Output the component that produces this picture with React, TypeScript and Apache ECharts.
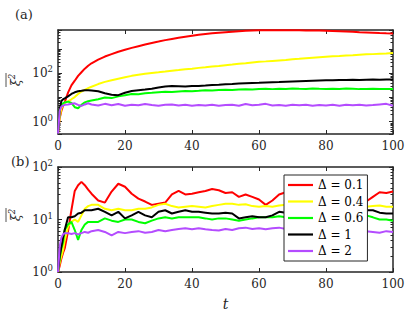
import React, { useEffect, useRef } from "react";
import * as echarts from "echarts";

const T = [0, 0.5, 1, 1.5, 2, 3, 4, 5, 6, 7, 8, 9, 10, 12, 14, 16, 18, 20, 22, 24, 26, 28, 30, 32, 34, 36, 38, 40, 42, 44, 46, 48, 50, 52, 54, 56, 58, 60, 62, 64, 66, 68, 70, 72, 74, 76, 78, 80, 82, 84, 86, 88, 90, 92, 94, 96, 98, 100];

// Panel (a)
const redA = [0.32, 1.4, 2.8, 4.5, 6.3, 16, 32, 50, 79, 112, 158, 209, 263, 372, 500, 630, 794, 955, 1148, 1349, 1585, 1820, 2089, 2399, 2692, 3020, 3311, 3631, 3981, 4266, 4571, 4898, 5129, 5370, 5623, 5888, 6026, 6095, 6110, 6120, 6120, 6110, 6100, 6080, 6050, 6000, 5950, 5888, 5750, 5600, 5450, 5300, 5129, 4990, 4850, 4700, 4580, 4467];
const yellowA = [0.32, 1.5, 3.5, 5, 6, 7, 8.5, 10.5, 14.1, 17.8, 20.9, 24.5, 28.2, 36.3, 44.7, 52.5, 60.3, 69.2, 79.4, 89.1, 97.7, 105, 112, 120, 129, 138, 148, 158, 170, 182, 195, 204, 219, 234, 251, 263, 282, 302, 316, 331, 347, 363, 389, 407, 427, 447, 468, 490, 513, 525, 550, 562, 589, 617, 631, 661, 676, 708];
const greenA = [0.32, 3.2, 5, 5.8, 6.3, 6.8, 6, 4, 3.6, 5, 6.3, 7.1, 7.6, 8.5, 10, 9.5, 11.2, 12.6, 14.1, 13.8, 15.1, 15.8, 16.6, 17.4, 17, 17.8, 18.6, 18.2, 19, 20, 19.5, 20.4, 20.9, 20.4, 21.4, 21.9, 21.4, 22.9, 23.4, 22.4, 23.4, 22.9, 24, 23.4, 22.9, 24, 23.4, 22.9, 23.4, 22.9, 24, 23.4, 22.4, 22.9, 23.4, 22.9, 22.4, 22.4];
const blackA = [0.32, 3.2, 7.1, 8.5, 9.3, 11.2, 14.1, 16.6, 18.2, 19, 20, 20, 19.5, 18.2, 15.1, 13.2, 12.6, 15.8, 18.6, 20, 21.4, 23.4, 26.3, 28.8, 30.2, 29.5, 28.8, 30.2, 30.2, 31.6, 33.1, 33.9, 35.5, 36.3, 38, 38.9, 39.8, 40.7, 41.7, 42.7, 43.7, 45.7, 46.8, 47.9, 49, 50.1, 51.3, 52.5, 52.5, 53.7, 53.7, 55, 53.7, 55, 56.2, 55, 56.2, 56.2];
const purpleA = [0.32, 2.8, 4.2, 4.6, 5, 5.2, 5.6, 5.8, 5, 4.5, 5.2, 5.8, 5.2, 4.7, 5.5, 4.8, 5.4, 4.6, 5.1, 4.8, 5.4, 4.9, 4.6, 5, 5.2, 4.7, 5, 4.6, 4.9, 4.7, 5.1, 4.6, 4.9, 5, 4.6, 5.4, 4.8, 5, 5.5, 4.7, 4.9, 4.6, 5, 4.8, 5.1, 4.6, 4.9, 4.7, 5, 4.6, 5.1, 4.8, 5, 4.7, 4.9, 5.2, 5.5, 4.6];

// Panel (b)
const redB = [1, 1.3, 1.8, 2.3, 2.8, 6, 15, 35, 45, 52, 45, 37, 31, 23, 21, 34, 48, 42, 31, 25, 22, 19, 20, 21, 30, 35, 30, 31, 33, 35, 38, 36, 32, 33, 27, 30, 27, 24, 19, 23, 30, 33, 35, 30, 28, 32, 29, 27, 30, 26, 28, 25, 23, 22, 27, 33, 32, 34];
const yellowB = [1, 1.5, 2, 2.6, 4, 7.3, 9, 10, 9, 12, 16, 18, 19, 19, 16, 15, 16, 15, 15, 16, 16, 17, 19, 20, 18, 17, 17.5, 18, 17.5, 17, 18, 19, 20, 20, 19, 19.5, 18, 17.5, 18, 17.5, 18.5, 19, 18, 18.5, 17.5, 18, 19, 18.5, 18, 17.5, 18, 18.5, 18, 17.5, 18, 18.5, 17.5, 17.5];
const greenB = [1, 1.8, 2.8, 3.6, 6.3, 8, 9, 6.3, 4.1, 6.3, 8, 9, 9, 9, 10.5, 9.5, 9, 10, 10, 9, 8.5, 9.5, 10.5, 11, 10.5, 11, 11, 11, 11, 10.5, 10, 10.5, 10.5, 10, 9.5, 10, 10.5, 11, 11, 11, 11.5, 11, 11.5, 11, 11.5, 12, 11.5, 11, 11.5, 12, 11.5, 11, 11.5, 12, 11, 10, 10, 9.5];
const blackB = [1, 2, 3, 4.5, 6.3, 11, 11, 11.5, 13, 13.5, 15, 15, 15, 16, 14, 12, 14, 10.5, 12, 14, 12, 11, 14, 15, 13, 14, 15, 14, 14, 13.5, 13, 13, 13.5, 13, 10.5, 11, 11.5, 11, 11, 12, 14, 13.5, 14.5, 14, 13.5, 14.5, 15, 14, 14.5, 13.5, 14, 14.5, 14, 15, 15, 13.5, 13, 13];
const purpleB = [1, 3, 4.5, 5.2, 5.5, 5.5, 5.3, 5.5, 5.2, 5.5, 5.8, 5.6, 6, 6.3, 5.8, 5, 5.8, 5.5, 5.8, 6, 5.6, 5.8, 6.3, 6, 6.3, 6.6, 6.8, 6.5, 6.8, 6.5, 6.3, 6.2, 6.6, 6.3, 6.8, 7, 6.6, 6.8, 6.5, 6.8, 7, 6.6, 6.8, 6.5, 6.3, 6.6, 6.8, 6.4, 6.6, 6.2, 6.5, 6.3, 6.1, 6, 5.8, 5.6, 6, 5.8];

const NAMES = ["Δ = 0.1", "Δ = 0.4", "Δ = 0.6", "Δ = 1", "Δ = 2"];
const COLORS = ["#ff0000", "#ffff00", "#00ff00", "#000000", "#b44cff"];
const SERIES_A = [redA, yellowA, greenA, blackA, purpleA];
const SERIES_B = [redB, yellowB, greenB, blackB, purpleB];

const X_MIN = 0;
const X_MAX = 100;
const X_STEP = 20;
const Y_A = [0.31, 6300];
const Y_B = [1, 100];
const LABEL_EXP_A = [0, 2];
const LABEL_EXP_B = [0, 1, 2];

const FONT = "DejaVu Serif";
const AX = "#262626";

export default function App() {
  const ref = useRef<HTMLDivElement>(null);
  useEffect(() => {
    const chart = echarts.init(ref.current!, null, { renderer: "svg" });
    const logLabel = (show: number[]) => (v: number) => {
      const l = Math.log10(v);
      const e = Math.round(l);
      if (Math.abs(l - e) > 1e-6 || !show.includes(e)) return "";
      return `{b|10}{s|${e}}`;
    };
    const rich = {
      b: { fontFamily: FONT, fontSize: 12, color: AX },
      s: { fontFamily: FONT, fontSize: 8.5, color: AX, padding: [0, 0, 8, 0] },
    };
    const xAx = (gridIndex: number, position: string, showLabel: boolean, name?: string) => ({
      type: "value",
      gridIndex,
      position,
      min: X_MIN,
      max: X_MAX,
      interval: X_STEP,
      name: name || "",
      nameLocation: "middle",
      nameGap: 25,
      nameTextStyle: { fontFamily: FONT, fontStyle: "italic", fontSize: 14, color: AX },
      axisLine: { show: true, onZero: false, lineStyle: { color: AX, width: 1.5 } },
      axisTick: { show: true, inside: true, length: 4, lineStyle: { color: AX, width: 1 } },
      axisLabel: { show: showLabel, fontFamily: FONT, fontSize: 12, color: AX, margin: 6 },
      splitLine: { show: false },
    });
    const yAx = (gridIndex: number, position: string, showLabel: boolean, range: number[], exps: number[]) => ({
      type: "log",
      logBase: 10,
      gridIndex,
      position,
      min: range[0],
      max: range[1],
      axisLine: { show: true, onZero: false, lineStyle: { color: AX, width: 1.5 } },
      axisTick: { show: true, inside: true, length: 4, lineStyle: { color: AX, width: 1 } },
      minorTick: { show: true, splitNumber: 9, length: 2.5, lineStyle: { color: AX, width: 1 } },
      axisLabel: {
        show: showLabel,
        formatter: logLabel(exps),
        rich,
        fontFamily: FONT,
        margin: 5,
        showMinLabel: true,
        showMaxLabel: true,
      },
      splitLine: { show: false },
    });
    const mkSeries = (data: number[][], xi: number, yi: number) =>
      data.map((vals, i) => ({
        name: NAMES[i],
        type: "line",
        xAxisIndex: xi,
        yAxisIndex: yi,
        data: T.map((t, k) => [t, vals[k]]),
        symbol: "none",
        showSymbol: false,
        lineStyle: { color: COLORS[i], width: 2 },
        itemStyle: { color: COLORS[i] },
        clip: true,
      }));
    const yName = (y: number) => ({
      type: "group",
      x: 15,
      y,
      rotation: Math.PI / 2,
      children: [
        {
          type: "text",
          style: {
            text: "{x|ξ}{s|2}",
            rich: {
              x: { fontFamily: FONT, fontStyle: "italic", fontSize: 13, fill: AX, color: AX },
              s: { fontFamily: FONT, fontStyle: "italic", fontSize: 8.5, fill: AX, color: AX, padding: [0, 0, 7, 0] },
            },
            x: 0,
            y: 0,
            align: "center",
            verticalAlign: "middle",
            textAlign: "center",
            textVerticalAlign: "middle",
          },
        },
        { type: "line", shape: { x1: -7, y1: -9, x2: 7, y2: -9 }, style: { stroke: AX, lineWidth: 0.8 } },
      ],
    });
    const option = {
      animation: false,
      backgroundColor: "#ffffff",
      textStyle: { fontFamily: FONT },
      grid: [
        { left: 58, right: 22, top: 30, height: 104 },
        { left: 58, right: 22, top: 167, height: 105 },
      ],
      xAxis: [
        xAx(0, "bottom", true),
        xAx(0, "top", false),
        xAx(1, "bottom", true, "t"),
        xAx(1, "top", false),
      ],
      yAxis: [
        yAx(0, "left", true, Y_A, LABEL_EXP_A),
        yAx(0, "right", false, Y_A, LABEL_EXP_A),
        yAx(1, "left", true, Y_B, LABEL_EXP_B),
        yAx(1, "right", false, Y_B, LABEL_EXP_B),
      ],
      legend: {
        data: NAMES,
        orient: "vertical",
        left: 284,
        top: 175,
        backgroundColor: "#ffffff",
        borderColor: AX,
        borderWidth: 1,
        borderRadius: 0,
        padding: [4, 4, 4, 4],
        icon: "path://M0,0 L25,0 L25,2.2 L0,2.2 Z",
        itemWidth: 25,
        itemHeight: 13.5,
        itemGap: 4.5,
        textStyle: { fontFamily: FONT, fontSize: 12, color: "#000" },
        selectedMode: false,
      },
      graphic: [
        { type: "text", left: 15, top: 8, style: { text: "(a)", font: `13px ${FONT}`, fill: AX } },
        { type: "text", left: 11, top: 155, style: { text: "(b)", font: `13px ${FONT}`, fill: AX } },
        yName(80),
        yName(215),
      ],
      series: [...mkSeries(SERIES_A, 0, 0), ...mkSeries(SERIES_B, 2, 2)],
    };
    chart.setOption(option as any);
    return () => chart.dispose();
  }, []);
  return <div ref={ref} style={{ width: 415, height: 323, position: "absolute", left: 0, top: 0 }} />;
}
